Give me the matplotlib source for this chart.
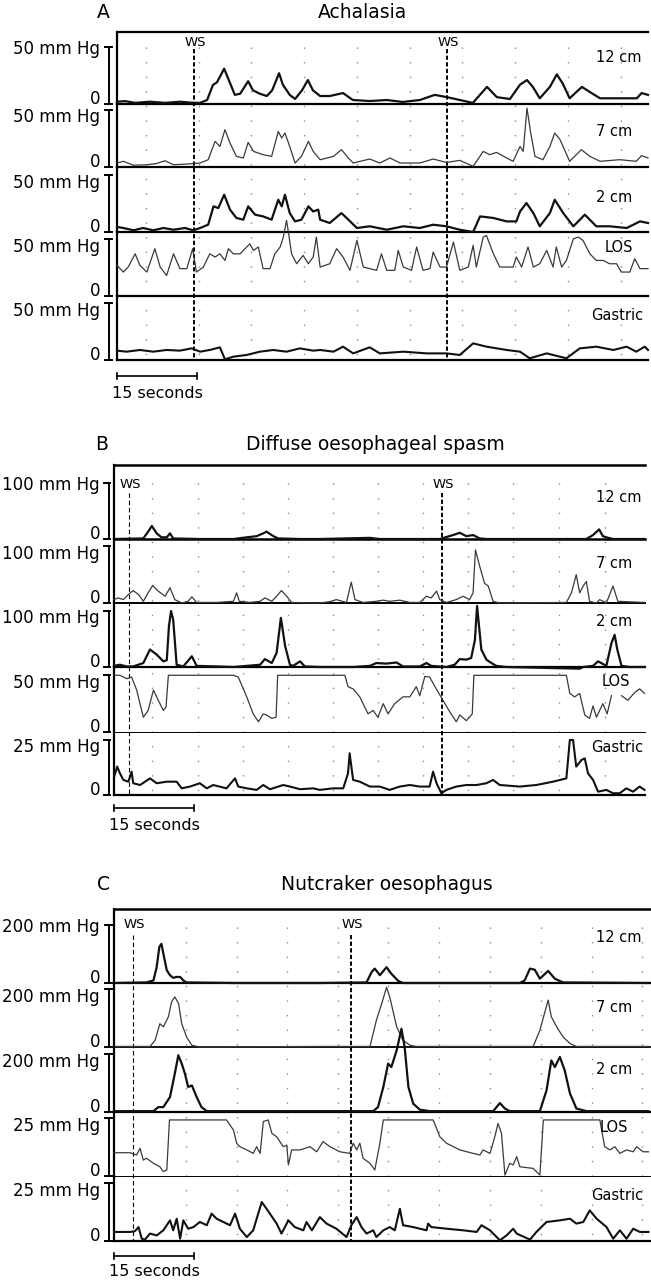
import matplotlib
matplotlib.use("Agg")
import matplotlib.pyplot as plt
import matplotlib.transforms as mtransforms
import numpy as np

plt.rcParams['font.family'] = ['DejaVu Sans']

# ---------------- data ----------------
CHANNELS = ['12 cm', '7 cm', '2 cm', 'LOS', 'Gastric']
PANEL_LETTERS = ['A', 'B', 'C']
PANEL_TITLES = ['Achalasia', 'Diffuse oesophageal spasm', 'Nutcraker oesophagus']
SCALE_A = [50, 50, 50, 50, 50]
SCALE_B = [100, 100, 100, 50, 25]
SCALE_C = [200, 200, 200, 25, 25]
WS_A = [14.4, 61.9]
WS_B = [2.8, 61.5]
WS_C = [3.6, 44.4]
GRID_A = [5.4, 15.4, 25.1, 35.1, 45.0, 54.9, 64.7, 74.6, 84.6, 94.5]
GRID_B = [7.1, 15.75, 24.2, 32.6, 41.1, 49.5, 57.9, 66.4, 74.8, 83.4, 92.1]
GRID_C = [13.5, 23.1, 32.4, 42.0, 51.4, 60.9, 70.5, 80.1, 89.6, 99.0]
TIME_BAR_SECONDS = 15

# (time s, pressure mmHg)
A_12cm = [(0,2),(1.5,2.5),(3.4,1),(6.2,2),(9,1),(11.8,2),(14.4,1),(15.6,1),(16.9,3.5),(18,16.7),
          (18.75,19),(20.1,31),(21.2,18.4),(22.1,8),(23.1,9),(24.6,20),(25.5,12),(26.8,9),(28.1,7),
          (29.1,12),(30.4,27),(31.1,17),(32.4,8),(33.4,4.4),(34.7,12),(35.8,21),(36.75,12),(38.1,7),
          (39.9,7),(42.4,9.6),(44.25,3.5),(47.4,2.6),(50.6,3.5),(53.6,1.8),(56.8,3.5),(59.6,8),(61.9,6),
          (64.3,3.5),(66.75,1),(69.4,15),(71.25,6),(73.7,4.4),(75.6,17),(76.9,21),(78,15),(79.3,5),
          (81.2,15),(82.5,26),(83.6,18),(84.9,5),(87.2,15),(88.7,10.5),(90.6,5),(94.3,5),(97.5,5),
          (98.4,9.6),(99.6,8)]
A_7cm = [(0,3.5),(1.2,5),(3.1,1.5),(5.6,2),(7.4,3),(9.0,5.5),(10.6,2),(13.1,2.6),(14.3,3),(15.6,3.5),
         (17.1,6.4),(18.4,22.5),(19.3,18),(20.25,32.7),(21.2,21),(22.4,9.3),(23.7,7.9),(24.6,21.6),
         (25.6,13.7),(27.4,10.8),(29.0,9.3),(30.25,31.2),(30.9,25.4),(31.5,29.8),(32.4,18),(33.4,3.5),
         (34.6,9.3),(35.9,22.5),(36.8,13.7),(38.1,6.4),(40.6,9.3),(42.1,15.2),(43.4,7.9),(44.3,3.5),
         (47.4,7),(49.3,3.5),(51.2,7.9),(53.1,3.5),(56.8,3.5),(59.3,7),(61.8,4),(64.3,5.8),(66.8,0.6),
         (68.7,13.7),(69.9,10.8),(71.2,12.8),(73.1,7.9),(74.3,5),(75.6,18),(76.2,13.7),(76.9,51.7),
         (77.6,29.8),(78.4,9.3),(79.9,6.4),(81.2,18),(82.1,29.8),(83.1,24),(84.9,5),(87.1,15.2),
         (88.7,9.3),(90.6,5),(94.3,6.4),(97.4,5),(98.4,10),(99.6,7.9)]
A_2cm = [(0,4.4),(1.2,3.5),(3.1,1.5),(4.9,3.5),(6.8,1.5),(8.7,3.5),(10.6,2),(12.75,3.5),(14.3,1.5),
         (15.6,3.5),(17.1,6.4),(18.1,22.5),(19.0,21),(20.1,32.7),(21.2,19.6),(22.4,12.3),(23.7,10.8),
         (24.6,22.5),(25.9,15.2),(27.4,13.7),(29.0,10.8),(30.25,28.3),(30.9,22.5),(31.5,32.7),(32.4,16.6),
         (33.4,9.3),(34.6,10.8),(35.9,22.5),(36.8,18),(37.75,19.6),(38.1,10.8),(39.9,7.9),(42.1,16.6),
         (43.4,10.8),(45.0,3.5),(47.4,5),(50.6,2),(53.7,5),(56.8,3.5),(59.3,6.4),(61.8,5),(64.3,2),
         (66.8,0),(68.1,13.7),(70.6,12.3),(73.1,9.3),(74.9,9.3),(75.6,18),(76.8,25.4),(78.1,16.6),
         (79.3,5),(81.2,16.6),(82.1,28.3),(83.7,16.6),(85.6,5),(87.75,15.2),(89.9,5),(92.4,5),(95.6,3.5),
         (98.1,9.3),(99.6,7.9)]
A_LOS = [(0,26.9),(1.2,21),(2.1,25.4),(3.4,37),(4.3,26.9),(5.6,21),(7.1,41.5),(8.1,25.4),(9.3,18),
         (10.6,37),(11.8,24),(13.1,24),(14.2,41.5),(14.9,21),(16.2,25.4),(17.4,37),(18.4,34.2),(19.3,37),
         (20.25,31.2),(20.9,41.5),(21.8,37),(23.1,37),(24.9,45.8),(25.6,40),(26.5,43),(27.4,24),(28.7,24),
         (29.6,37),(30.6,43),(31.2,51.7),(31.8,66.3),(32.1,57.5),(32.75,37),(33.7,28.3),(34.9,35.6),
         (35.9,28.3),(36.8,34.2),(37.4,51.7),(38.1,25.4),(39.9,28.3),(41.2,41.5),(42.4,34.2),(43.7,22.5),
         (45.0,48.8),(46.2,25.4),(48.7,22.5),(49.6,37),(50.6,22.5),(52.1,22.5),(52.75,40),(53.7,25.4),
         (55.25,22.5),(56.2,43),(57.4,22.5),(58.7,24),(59.3,38.5),(60.6,25.4),(61.8,25.4),(63.1,47.3),
         (64.3,22.5),(65.9,25.4),(66.8,44.4),(67.4,25.4),(68.7,51.7),(69.3,53.1),(70.6,37),(71.8,25.4),
         (74.3,25.4),(74.9,34.2),(75.9,25.4),(77.1,43),(78.1,25.4),(79.3,28.3),(80.6,40),(81.8,25.4),
         (82.4,43),(83.4,25.4),(84.3,31.2),(85.6,50.2),(86.5,51.7),(87.4,48.8),(88.7,37),(89.9,31.2),
         (91.2,31.2),(92.4,28.3),(93.7,28.3),(94.6,21),(96.2,21),(97.1,32.7),(98.1,24),(99.6,24)]
A_Gastric = [(0,8.2),(1.8,7.3),(4.3,8.8),(6.8,7.3),(9.3,8.8),(11.8,8.2),(14.0,10.2),(15.6,7.3),(17.4,8.8),
             (19.3,11.1),(20.25,0.6),(21.8,2.9),(24.3,4.4),(26.8,7.3),(29.3,8.8),(31.8,7.3),(34.3,10.2),
             (36.8,8.2),(38.1,8.8),(40.6,7.3),(42.4,11.7),(44.3,5.8),(47.4,11.1),(49.3,5.8),(53.7,7.3),
             (58.1,5.8),(61.8,5.8),(64.3,4.4),(66.8,14.6),(69.3,11.7),(73.1,8.8),(75.6,7.3),(77.4,1.5),
             (80.6,5.8),(84.3,1.5),(86.8,10.2),(89.9,11.7),(93.1,8.8),(95.6,11.7),(97.4,7.3),(99.0,11.7),
             (99.6,8.8)]

B_12cm = [(0,0),(5.5,1),(6.4,13),(7.1,23),(8.0,10),(8.9,3),(9.9,3),(10.5,10),(11.1,1),(16.1,0),(22.4,0),
          (24.9,3),(26.75,5),(28.0,10),(28.6,13),(29.9,5),(30.8,1),(34.9,0),(38.6,0),(48.0,2),(49.85,0),
          (61.1,0),(63.6,7),(64.85,11),(66.1,5),(67.35,7),(68.6,1),(69.85,0),(88.6,0),(89.85,7),(91.0,17),
          (91.7,5),(92.35,3),(93.6,0),(99.5,0)]
B_7cm = [(0,6),(0.8,9),(1.75,6),(2.7,15),(3.6,22),(4.6,15),(5.5,3),(6.4,18),(7.25,31),(8.3,21),(9.6,12),
         (10.5,27),(11.4,6),(12.7,0),(13.9,3),(14.6,11),(15.5,1),(19.25,1),(22.4,3),(23.0,18),(23.5,3),
         (25.5,1),(27.4,3),(28.3,9),(29.6,3),(30.5,12),(31.4,22),(32.4,12),(33.3,1),(38.6,0),(40.5,2.4),
         (41.7,6),(43.6,1),(44.5,37),(45.2,6),(46.7,1),(49.2,3),(50.5,5),(51.7,3),(53.6,5),(55.5,1),
         (57.35,1),(58.6,12),(59.5,9),(60.5,21),(61.1,6),(62.35,1),(64.2,6),(65.5,12),(66.7,6),(67.35,18),
         (67.8,94),(68.6,65),(69.5,35),(70.2,30),(71.1,3),(72.35,0),(84.85,1),(85.8,18),(86.7,50),
         (87.35,18),(88.0,30),(88.6,38),(89.2,3),(90.5,0),(91.1,6),(92.35,0),(93.6,30),(94.5,3),(99.5,1)]
B_2cm = [(0,2),(1.1,4),(2.4,1),(3.6,1),(5.5,7),(6.75,31),(8.0,22),(9.25,10),(9.9,12),(10.3,72),(10.7,99),
         (11.1,84),(11.75,4),(13.0,1),(14.6,19),(15.5,2),(19.25,1),(22.4,0),(27.4,4),(28.3,14),(29.6,7),
         (30.5,25),(31.3,87),(32.1,37),(33.0,4),(33.6,2),(34.9,10),(35.8,1),(38.6,0),(44.85,0),(48.0,2),
         (49.2,7),(51.1,6),(53.0,8),(54.2,1),(57.35,1),(58.6,7),(59.5,2),(62.35,0),(63.9,4),(64.85,14),
         (66.1,13),(67.0,16),(67.7,48),(68.1,108),(68.9,31),(69.85,13),(70.8,7),(71.7,2),(73.6,0),
         (87.35,-3),(88.0,0),(89.85,2),(90.8,10),(92.35,2),(93.3,42),(93.9,57),(94.4,31),(95.2,2),
         (96.7,0),(99.5,0)]
B_LOS = [(0,50),(1.1,50),(2.4,47),(3.3,48.5),(4.25,37),(5.5,13),(6.4,19),(7.4,37),(8.3,28),(9.25,19),
         (9.75,22),(10.2,50),(22.4,50),(23.3,48.5),(24.9,31),(26.1,16),(27.1,9),(28.0,16),(28.6,15),
         (29.6,12),(30.4,13),(30.7,50),(38.6,50),(43.3,50),(43.9,40),(44.85,38),(46.1,31),(47.65,16),
         (48.6,19),(49.5,13),(50.5,25),(51.4,16),(52.65,25),(54.2,31),(55.5,31),(56.7,40),(57.35,32),
         (58.3,49),(59.2,48.5),(60.2,40),(61.7,28),(62.95,18),(64.2,9),(64.85,15),(66.1,10),(67.2,16),
         (67.5,50),(84.85,50),(85.5,34),(86.4,31),(87.35,34),(88.3,15),(89.2,12),(89.85,23),(90.5,13),
         (91.7,25),(92.5,16),(93.3,32),(94.2,float('nan')),(95.2,32),(96.4,28),(97.7,35),(98.6,38),
         (99.5,34)]
B_Gastric = [(0,8),(0.6,12.8),(1.1,9.8),(1.75,6.8),(2.7,6),(3.3,10.5),(3.6,5.3),(4.9,4.5),(6.75,7.5),
             (8.0,5.3),(9.9,6),(11.75,6),(12.7,3),(14.25,3.8),(16.1,5.3),(17.4,3),(18.6,4.5),(21.1,3),
             (22.7,7.5),(23.3,3.8),(24.9,3),(26.75,2.3),(28.0,4.5),(29.25,2.6),(31.75,4.5),(33.0,3.8),
             (34.9,2.6),(37.4,3),(38.6,2.3),(41.1,3),(43.0,3),(43.9,9.8),(44.2,18.8),(44.85,6.8),(46.1,6),
             (48.0,3.8),(49.85,3.8),(51.7,2.3),(53.6,3.8),(55.5,4.5),(57.35,3.8),(59.2,3.8),(59.85,10.5),
             (60.5,5.3),(61.4,0.8),(62.35,2.3),(64.2,3.8),(66.1,4.5),(68.0,4.5),(69.85,5.3),(71.1,6.8),
             (72.35,4.5),(76.1,3.8),(79.2,4.5),(82.35,6),(84.85,7.5),(85.5,24.8),(86.1,24.8),(86.7,12.8),
             (87.7,15.8),(88.3,16.5),(88.9,9.8),(89.85,6.8),(90.8,1.5),(92.35,2.3),(93.6,0.8),(94.85,0.8),
             (96.1,3),(97.35,1.5),(98.6,3.8),(99.5,2.3)]

C_12cm = [(0,0),(6.1,2),(7.4,9),(8.0,55),(8.5,125),(8.9,136),(9.25,102),(9.9,44),(10.5,27),(11.1,18),
          (11.75,21),(12.4,21),(13.0,9),(13.6,2),(22.4,0),(38.6,0),(47.35,2),(48.3,38),(48.9,50),
          (49.85,27),(51.1,55),(52.0,32),(53.3,7),(54.2,0),(76.1,0),(77.0,9),(78.0,50),(78.9,46),
          (79.85,15),(81.4,42),(82.65,15),(84.2,2),(100.2,0)]
C_7cm = [(0,2),(6.75,2),(7.7,23),(8.6,81),(9.25,70),(10.2,105),(10.8,157),(11.4,174),(12.1,151),
         (12.7,81),(13.6,35),(14.6,6),(16.1,0),(38.6,2),(48.0,2),(49.2,93),(50.2,151),(51.1,207),
         (51.7,174),(53.0,70),(54.2,23),(55.5,6),(56.7,2),(78.6,2),(79.85,58),(80.8,122),(81.4,163),
         (82.0,105),(83.0,70),(84.2,35),(85.5,12),(86.7,2),(100.2,2)]
C_2cm = [(0,3),(7.4,3),(8.3,17),(9.25,17),(10.5,52),(11.4,133),(12.06,197),(12.7,168),(13.3,133),
         (13.9,87),(14.6,92),(15.5,52),(16.4,17),(17.4,3),(38.6,3),(48.6,3),(49.5,17),(50.5,87),
         (51.4,168),(52.0,156),(53.0,214),(53.9,289),(54.5,225),(55.2,87),(56.1,29),(57.35,8),(59.2,3),
         (71.1,3),(72.35,31),(73.3,12),(74.2,3),(79.85,3),(81.1,75),(82.0,179),(82.65,156),(83.6,191),
         (84.5,145),(85.5,64),(86.7,12),(88.6,3),(100.2,3)]
C_LOS = [(0,10.1),(3.0,10.1),(4.25,9.1),(4.875,12),(5.5,6.9),(6.1,7.7),(7.4,5.5),(8.6,4),(9.25,1.9),
         (9.9,2.6),(10.4,24.3),(11.1,24.3),(21.1,24.3),(22.4,19.9),(23.0,14.2),(23.6,12.7),(24.9,11.3),
         (26.1,9.8),(26.75,12.7),(27.4,9.8),(28.0,23.6),(28.9,24.3),(29.6,18.5),(30.5,17),(31.75,12.7),
         (32.4,13.4),(32.7,4.8),(33.3,11.3),(34.9,11.3),(36.75,12.7),(38.0,10.5),(38.6,12.7),(39.2,14.9),
         (40.5,12.7),(42.35,10.5),(44.2,9.8),(44.85,14.2),(45.5,11.3),(46.1,14.2),(46.7,7.7),(48.0,5.5),
         (48.9,2.6),(49.85,14.2),(50.5,24.3),(59.85,24.3),(61.1,17),(62.35,14.2),(64.85,11.3),(67.35,9.8),
         (68.6,9.1),(69.2,11.3),(70.5,9.8),(71.4,17),(72.0,22.8),(72.65,18.5),(73.3,0.4),(74.2,5.5),
         (74.85,4.8),(75.5,8.4),(76.1,4),(78.6,3.3),(79.85,0.4),(80.5,24.3),(91.1,24.3),(92.0,12.7),
         (93.0,11.3),(93.9,12.7),(94.85,9.8),(96.1,11.3),(97.35,10.5),(98.0,12.7),(99.2,10.5),(100.2,10.5)]
C_Gastric = [(0,3.9),(3.0,3.9),(3.9,4.2),(4.6,6),(5.2,1),(5.8,0.6),(6.75,3.2),(8.0,2.4),(9.25,4.6),
             (10.5,8.9),(11.1,4.6),(11.75,9.6),(12.4,1),(13.0,8.9),(13.9,5.3),(14.9,6),(16.1,8.2),(17.4,6.8),
             (18.3,11.8),(19.25,9.6),(20.5,8.2),(21.75,6.8),(22.7,11.8),(23.6,5.3),(24.9,1.7),(26.1,4.6),
             (27.7,16.8),(28.6,13.9),(30.5,7.5),(31.4,3.2),(32.7,8.9),(33.9,6),(35.5,4.6),(36.1,8.2),
             (37.1,4.6),(38.6,10.3),(39.85,7.5),(41.7,5.3),(43.6,1.7),(44.5,6.8),(45.5,10.3),(46.4,6),
             (47.35,3.2),(48.6,4.6),(49.2,1.7),(50.5,4.6),(51.7,6),(52.65,4.6),(53.6,13.9),(54.2,6.8),
             (56.1,6),(58.6,4.6),(58.9,7.5),(59.5,6),(62.35,5.3),(65.5,4.6),(68.0,3.9),(68.9,6.8),(70.5,4.6),
             (72.35,0.3),(73.6,2.4),(74.85,5.3),(75.5,3.2),(78.0,0.6),(79.2,3.9),(81.1,8.2),(83.6,8.9),
             (85.5,9.6),(86.7,7.5),(88.0,8.2),(89.2,13.2),(90.5,9.6),(92.35,6),(93.6,1),(94.85,4.6),(96.1,1),
             (97.35,5.3),(98.6,3.9),(100.2,3.9)]

TRACES_A = [A_12cm, A_7cm, A_2cm, A_LOS, A_Gastric]
TRACES_B = [B_12cm, B_7cm, B_2cm, B_LOS, B_Gastric]
TRACES_C = [C_12cm, C_7cm, C_2cm, C_LOS, C_Gastric]

# ---------------- layout / style ----------------
FIG_W, FIG_H = 651, 1280
fig = plt.figure(figsize=(FIG_W / 100, FIG_H / 100), dpi=100)

def fx(px):
    return px / FIG_W

def fy(py):
    return 1.0 - py / FIG_H

TRACE_LW = [1.6, 0.9, 1.6, 0.9, 1.5]
TRACE_COL = ['#111111', '#3a3a3a', '#111111', '#3a3a3a', '#111111']
LABEL_DROP = [0, 5.5, 5.5, 5.5, 5.5]   # px the scale label sits below its bar top

layouts = [
    dict(left=117, right=648, top=32, bases=[104, 167, 232, 296, 360], xmax=99.6,
         ppu=[1.14] * 5, sep_lw=[1.6] * 5, top_lw=1.6, letter=(103, 13), title=(362, 13),
         ws_top=49, ws_text_y=42, ws_lw=[1.4, 1.4], grid_top=47, bar_y=376, bar_text_y=394,
         tick=(-3, 3), chan_x=[596, 596, 596, 605, 591], chan_y=[57, 131, 197, 247, 315]),
    dict(left=114, right=645, top=465, bases=[539, 603, 667, 732, 795], xmax=99.6,
         ppu=[0.565, 0.565, 0.565, 1.134, 2.22], sep_lw=[1.8, 1.4, 1.6, 0.7, 1.6], top_lw=1.8,
         letter=(102, 445), title=(375, 445),
         ws_top=493, ws_text_y=485, ws_lw=[0.8, 1.4], grid_top=483, bar_y=808, bar_text_y=826,
         tick=(-4, 1), chan_x=[596, 596, 596, 602, 591], chan_y=[498, 563, 622, 682, 748]),
    dict(left=114, right=650, top=909, bases=[983, 1047, 1112, 1176, 1241], xmax=100.5,
         ppu=[0.288, 0.288, 0.288, 2.307, 2.32], sep_lw=[1.6, 1.3, 1.6, 0.7, 1.6], top_lw=1.8,
         letter=(104, 885), title=(387, 885),
         ws_top=935, ws_text_y=925, ws_lw=[0.8, 1.4], grid_top=927, bar_y=1256, bar_text_y=1272,
         tick=(-3, 3), chan_x=[596, 596, 596, 600, 591], chan_y=[938, 1007, 1069, 1128, 1196]),
]

ALL_TRACES = [TRACES_A, TRACES_B, TRACES_C]
ALL_SCALES = [SCALE_A, SCALE_B, SCALE_C]
ALL_WS = [WS_A, WS_B, WS_C]
ALL_GRID = [GRID_A, GRID_B, GRID_C]

SCALE_BAR_X = 108.5
SCALE_LABEL_X = 100

for p, L in enumerate(layouts):
    traces = ALL_TRACES[p]
    scales = ALL_SCALES[p]
    axes = []
    for i in range(5):
        top_px = L['top'] if i == 0 else L['bases'][i - 1]
        h_px = L['bases'][i] - top_px
        ax = fig.add_axes([fx(L['left']), fy(L['bases'][i]), fx(L['right']) - fx(L['left']), h_px / FIG_H])
        ax.set_xlim(0, L['xmax'])
        ax.set_ylim(0, h_px / L['ppu'][i])
        ax.patch.set_visible(False)
        ax.set_xticks([])
        ax.set_yticks([])
        for s in ['top', 'right']:
            ax.spines[s].set_visible(False)
        ax.spines['left'].set_linewidth(1.6)
        ax.spines['bottom'].set_linewidth(L['sep_lw'][i])
        if i == 0:
            ax.spines['top'].set_visible(True)
            ax.spines['top'].set_linewidth(L['top_lw'])
        arr = np.array(traces[i], dtype=float)
        ax.plot(arr[:, 0], arr[:, 1], color=TRACE_COL[i], lw=TRACE_LW[i], clip_on=False,
                solid_joinstyle='round', zorder=3)
        # scale bar
        tr = mtransforms.blended_transform_factory(fig.transFigure, ax.transData)
        xb = fx(SCALE_BAR_X)
        t0, t1 = L['tick'][0] / FIG_W, L['tick'][1] / FIG_W
        sc = scales[i]
        ax.plot([xb, xb], [0, sc], color='k', lw=1.4, transform=tr, clip_on=False)
        ax.plot([xb + t0, xb + t1], [sc, sc], color='k', lw=1.4, transform=tr, clip_on=False)
        ax.plot([xb + t0, xb + t1], [0, 0], color='k', lw=1.4, transform=tr, clip_on=False)
        tr_lab = mtransforms.offset_copy(tr, fig=fig, x=0, y=-LABEL_DROP[i], units='dots')
        ax.text(fx(SCALE_LABEL_X), sc, f'{sc} mm Hg', transform=tr_lab, ha='right',
                va='center_baseline', fontsize=12)
        ax.text(fx(SCALE_LABEL_X), 0, '0', transform=tr, ha='right', va='baseline', fontsize=12)
        # channel label
        fig.text(fx(L['chan_x'][i]), fy(L['chan_y'][i]), CHANNELS[i], ha='left', va='center',
                 fontsize=10.5)
        axes.append(ax)

    top_ax = axes[0]
    bot_ax = axes[-1]
    trx = mtransforms.blended_transform_factory(top_ax.transData, fig.transFigure)
    y_bottom = fy(L['bases'][-1])
    # dotted time gridlines
    for g in ALL_GRID[p]:
        top_ax.plot([g, g], [fy(L['grid_top']), y_bottom], transform=trx, clip_on=False,
                    color='#8a8a8a', lw=1.0, linestyle=(0, (1, 9.5)), zorder=1)
    # WS markers
    for k, w in enumerate(ALL_WS[p]):
        lw = L['ws_lw'][k]
        dash = (0, (2.2, 1.2)) if lw > 1 else (0, (4, 2.5))
        top_ax.plot([w, w], [fy(L['ws_top']), y_bottom], transform=trx, clip_on=False,
                    color='k', lw=lw, linestyle=dash, zorder=4)
        top_ax.text(w + 0.3, fy(L['ws_text_y']), 'WS', transform=trx, ha='center', va='center',
                    fontsize=9.5)
    # 15 seconds bar
    trb = mtransforms.blended_transform_factory(bot_ax.transData, fig.transFigure)
    yb = fy(L['bar_y'])
    dyt = 3 / FIG_H
    bot_ax.plot([0, TIME_BAR_SECONDS], [yb, yb], color='k', lw=1.2, transform=trb, clip_on=False)
    for xx in [0, TIME_BAR_SECONDS]:
        bot_ax.plot([xx, xx], [yb - dyt, yb + dyt], color='k', lw=1.2, transform=trb, clip_on=False)
    bot_ax.text(TIME_BAR_SECONDS / 2, fy(L['bar_text_y']), f'{TIME_BAR_SECONDS} seconds',
                transform=trb, ha='center', va='center', fontsize=11.5)
    # titles
    fig.text(fx(L['letter'][0]), fy(L['letter'][1]), PANEL_LETTERS[p], ha='center', va='center',
             fontsize=13.5)
    fig.text(fx(L['title'][0]), fy(L['title'][1]), PANEL_TITLES[p], ha='center', va='center',
             fontsize=13.5)

fig.savefig('out.png', dpi=100)
